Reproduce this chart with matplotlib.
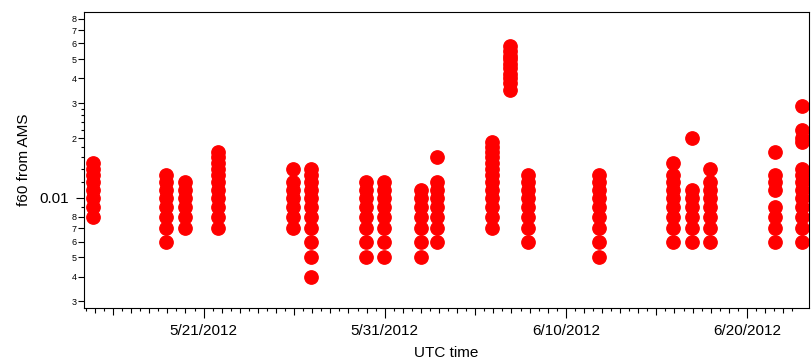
import numpy as np
import pandas as pd
import matplotlib
matplotlib.use("Agg")
import matplotlib.pyplot as plt
import matplotlib.dates as mdates
from matplotlib.ticker import FixedLocator, FuncFormatter

plt.rcParams["font.family"] = ["Liberation Sans", "DejaVu Sans"]

# time of each column of samples (UTC) and the f60 values in it
cluster_times = [
    "2012-05-14 21:30", "2012-05-18 22:00", "2012-05-19 23:30", "2012-05-21 19:40",
    "2012-05-25 23:00", "2012-05-26 22:00", "2012-05-29 23:00", "2012-05-30 22:30",
    "2012-06-02 00:00", "2012-06-02 21:00", "2012-06-05 22:00", "2012-06-06 21:30",
    "2012-06-07 21:20", "2012-06-11 20:00", "2012-06-15 22:00", "2012-06-16 23:20",
    "2012-06-17 22:40", "2012-06-21 13:40", "2012-06-23 01:10",
]
cluster_values = [
    [0.008, 0.009, 0.010, 0.011, 0.012, 0.013, 0.014, 0.015],
    [0.006, 0.007, 0.008, 0.009, 0.010, 0.011, 0.012, 0.013],
    [0.007, 0.008, 0.009, 0.010, 0.011, 0.012],
    [0.007, 0.008, 0.009, 0.010, 0.011, 0.012, 0.013, 0.014, 0.015, 0.016, 0.017],
    [0.007, 0.008, 0.009, 0.010, 0.011, 0.012, 0.014],
    [0.004, 0.005, 0.006, 0.007, 0.008, 0.009, 0.010, 0.011, 0.012, 0.013, 0.014],
    [0.005, 0.006, 0.007, 0.008, 0.009, 0.010, 0.011, 0.012],
    [0.005, 0.006, 0.007, 0.008, 0.009, 0.010, 0.011, 0.012],
    [0.005, 0.006, 0.007, 0.008, 0.009, 0.010, 0.011],
    [0.006, 0.007, 0.008, 0.009, 0.010, 0.011, 0.012, 0.016],
    [0.007, 0.008, 0.009, 0.010, 0.011, 0.012, 0.013, 0.014, 0.015, 0.016, 0.017, 0.018, 0.019],
    [0.035, 0.038, 0.040, 0.042, 0.045, 0.047, 0.050, 0.052, 0.055, 0.058],
    [0.006, 0.007, 0.008, 0.009, 0.010, 0.011, 0.012, 0.013],
    [0.005, 0.006, 0.007, 0.008, 0.009, 0.010, 0.011, 0.012, 0.013],
    [0.006, 0.007, 0.008, 0.009, 0.010, 0.011, 0.012, 0.013, 0.015],
    [0.006, 0.007, 0.008, 0.009, 0.010, 0.011, 0.020],
    [0.006, 0.007, 0.008, 0.009, 0.010, 0.011, 0.012, 0.014],
    [0.006, 0.007, 0.008, 0.009, 0.011, 0.012, 0.013, 0.017],
    [0.006, 0.007, 0.008, 0.009, 0.010, 0.011, 0.012, 0.013, 0.014, 0.019, 0.020, 0.022, 0.029],
]

x_tick_dates = ["2012-05-21", "2012-05-31", "2012-06-10", "2012-06-20"]
x_tick_labels = ["5/21/2012", "5/31/2012", "6/10/2012", "6/20/2012"]
y_minor_labeled = {0.003: "3", 0.004: "4", 0.005: "5", 0.006: "6", 0.007: "7", 0.008: "8",
                   0.02: "2", 0.03: "3", 0.04: "4", 0.05: "5", 0.06: "6", 0.07: "7", 0.08: "8"}
y_minor_small = [0.009, 0.012, 0.014, 0.016, 0.018, 0.022, 0.024, 0.026, 0.028]

times = []
values = []
for t, vals in zip(cluster_times, cluster_values):
    times += [pd.Timestamp(t)] * len(vals)
    values += vals

fig = plt.figure(figsize=(8.11, 3.6), dpi=100)
ax = fig.add_axes([0.1036, 0.1444, 0.894, 0.8223])

ax.plot(times, values, "o", color="#ff0000", mec="#ff0000", ms=9.6, ls="none")

ax.set_yscale("log")
ax.set_ylim(0.002777, 0.0865)
ax.set_xlim(pd.Timestamp("2012-05-14 09:36"), pd.Timestamp("2012-06-23 10:20"))

for s in ax.spines.values():
    s.set_linewidth(0.8)

# y axis: one decade label, digits for the minor ones
ax.yaxis.set_major_locator(FixedLocator([0.01]))
ax.yaxis.set_major_formatter(FuncFormatter(lambda v, p: "0.01"))
ax.yaxis.set_minor_locator(FixedLocator(sorted(list(y_minor_labeled) + y_minor_small)))
ax.yaxis.set_minor_formatter(FuncFormatter(
    lambda v, p: next((lab for k, lab in y_minor_labeled.items() if abs(k - v) < 1e-9), "")))

# x axis: 10-day labels, half-day minor ticks
ref = mdates.date2num(pd.Timestamp("2012-05-21"))
ax.xaxis.set_major_locator(FixedLocator([mdates.date2num(pd.Timestamp(d)) for d in x_tick_dates]))
ax.xaxis.set_major_formatter(FuncFormatter(lambda v, p: x_tick_labels[p] if p is not None and p < len(x_tick_labels) else ""))
ax.xaxis.set_minor_locator(FixedLocator(ref + 0.5 * np.arange(-14, 66)))

ax.tick_params(which="both", direction="out", width=0.8, right=False, top=False)
ax.tick_params(axis="y", which="major", length=6, pad=5, labelsize=11)
ax.tick_params(axis="y", which="minor", length=4.3, pad=0.8, labelsize=6.5)
ax.tick_params(axis="x", which="major", length=7.2, pad=4, labelsize=11)
ax.tick_params(axis="x", which="minor", length=3.6)

for tick, loc in zip(ax.yaxis.get_minor_ticks(), ax.yaxis.get_minorticklocs()):
    if not any(abs(k - loc) < 1e-9 for k in y_minor_labeled):
        tick.tick1line.set_markersize(2.2)

for tick, loc in zip(ax.xaxis.get_minor_ticks(), ax.xaxis.get_minorticklocs()):
    d = loc - ref
    if abs(d - round(d)) > 0.1:
        tick.tick1line.set_markersize(2.2)
    elif round(d) % 5 == 0:
        tick.tick1line.set_markersize(5)

ax.set_xlabel("UTC time", fontsize=11)
ax.set_ylabel("f60 from AMS", fontsize=11)
ax.xaxis.set_label_coords(0.5, -0.13)
ax.yaxis.set_label_coords(-0.073, 0.5)

fig.savefig("out.png", dpi=100)
